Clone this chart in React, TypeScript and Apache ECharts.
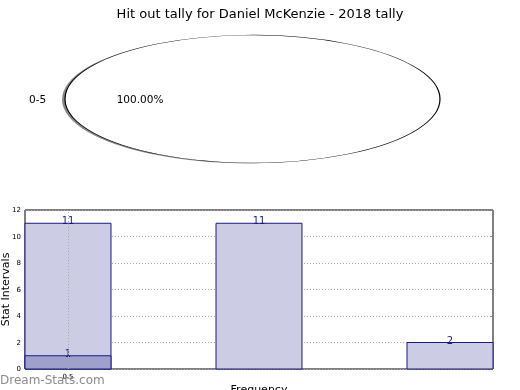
import React, { useEffect, useRef } from "react";
import * as echarts from "echarts";

const chartTitle = "Hit out tally for Daniel McKenzie - 2018 tally";
const pieLabels = ["0-5"];
const pieValues = [14];
const binStarts = [0, 2.221, 4.442];
const binEnds = [1, 3.221, 5.442];
const tallyCounts = [11, 11, 2];
const overlayStarts = [0];
const overlayEnds = [1];
const overlayCounts = [1];
const xTickValues = [0.5];
const xAxisName = "Frequency";
const yAxisName = "Stat Intervals";
const watermark = "Dream-Stats.com";

const FONT = "DejaVu Sans";

export default function App() {
  const ref = useRef<HTMLDivElement>(null);
  useEffect(() => {
    if (!ref.current) return;
    const chart = echarts.init(ref.current, null, { renderer: "svg" });
    const total = pieValues.reduce((a, b) => a + b, 0);
    const cum: number[] = [];
    pieValues.reduce((acc, v, i) => {
      cum[i] = acc;
      return acc + v;
    }, 0);

    const pieRender = (params: any, api: any) => {
      const i = params.dataIndex;
      const cx = 252.5, cy = 99, rx = 187.5, ry = 64;
      const k = ry / rx;
      const f0 = cum[i] / total;
      const f1 = (cum[i] + pieValues[i]) / total;
      const a0 = -f0 * Math.PI * 2;
      const a1 = -f1 * Math.PI * 2;
      const mid = (f0 + f1) * Math.PI;
      const pct = ((pieValues[i] / total) * 100).toFixed(2) + "%";
      const lx = cx + 1.1 * rx * Math.cos(mid);
      const ly = cy - 1.1 * ry * Math.sin(mid);
      const px = cx + 0.6 * rx * Math.cos(mid);
      const py = cy - 0.6 * ry * Math.sin(mid);
      return {
        type: "group",
        children: [
          {
            type: "sector",
            shape: { cx: cx - 3, cy: cy + 1.5, r: rx, r0: 0, startAngle: a0, endAngle: a1, clockwise: false },
            scaleY: k,
            originX: cx,
            originY: cy,
            style: { fill: "#7a7a7a", opacity: 0.9 },
          },
          {
            type: "sector",
            shape: { cx, cy, r: rx, r0: 0, startAngle: a0, endAngle: a1, clockwise: false },
            scaleY: k,
            originX: cx,
            originY: cy,
            style: { fill: "#ffffff", stroke: "#000", lineWidth: 1.2, strokeNoScale: true },
          },
          {
            type: "text",
            x: lx,
            y: ly,
            style: {
              text: pieLabels[i],
              fontFamily: FONT,
              fontSize: 10.5,
              fill: "#000",
              align: Math.cos(mid) < 0 ? "right" : "left",
              verticalAlign: "middle",
            },
          },
          {
            type: "text",
            x: px,
            y: py,
            style: {
              text: pct,
              fontFamily: FONT,
              fontSize: 10.5,
              fill: "#000",
              align: "center",
              verticalAlign: "middle",
            },
          },
        ],
      };
    };

    const barRender = (fill: string) => (params: any, api: any) => {
      const s = api.value(0), e = api.value(1), v = api.value(2);
      const p1 = api.coord([s, v]);
      const p2 = api.coord([e, 0]);
      return {
        type: "group",
        children: [
          {
            type: "rect",
            shape: { x: p1[0], y: p1[1], width: p2[0] - p1[0], height: p2[1] - p1[1] },
            style: { fill, stroke: "#1a1a80", lineWidth: 1 },
          },
          {
            type: "text",
            x: (p1[0] + p2[0]) / 2,
            y: p1[1] + 2.5,
            style: {
              text: String(v),
              fontFamily: FONT,
              fontSize: 10,
              fill: "#1a1a80",
              align: "center",
              verticalAlign: "bottom",
            },
          },
        ],
      };
    };

    chart.setOption({
      animation: false,
      textStyle: { fontFamily: FONT },
      title: {
        text: chartTitle,
        left: "center",
        top: 2,
        textStyle: { fontFamily: FONT, fontSize: 13, fontWeight: "normal", color: "#000" },
      },
      grid: {
        left: 25,
        top: 210,
        width: 468,
        height: 159,
        outerBoundsMode: "none",
        containLabel: false,
        show: true,
        borderColor: "#000",
        borderWidth: 1,
        backgroundColor: "transparent",
      },
      xAxis: {
        type: "value",
        min: 0,
        max: 5.442,
        name: xAxisName,
        nameLocation: "middle",
        nameGap: 15,
        nameTextStyle: { fontFamily: FONT, fontSize: 11, color: "#000" },
        axisLine: { show: false },
        axisTick: { show: true, inside: true, length: 3, lineStyle: { color: "#888" }, customValues: xTickValues },
        axisLabel: { fontSize: 7, color: "#000", margin: 4, customValues: xTickValues, fontFamily: FONT },
        splitLine: { show: false },
      },
      yAxis: [
        {
          type: "value",
          min: 0,
          max: 12,
          interval: 2,
          name: yAxisName,
          nameLocation: "middle",
          nameGap: 14,
          nameMoveOverlap: false,
          nameTextStyle: { fontFamily: FONT, fontSize: 11, color: "#000" },
          axisLine: { show: false },
          axisTick: { show: true, inside: true, length: 3, lineStyle: { color: "#888" } },
          axisLabel: { fontSize: 7, color: "#000", margin: 4, fontFamily: FONT },
          splitLine: { show: true, lineStyle: { type: [1, 2], color: "#aaa", width: 1 } },
        },
        {
          type: "value",
          min: 0,
          max: 12,
          interval: 2,
          position: "right",
          axisLine: { show: false },
          axisTick: { show: true, inside: true, length: 3, lineStyle: { color: "#888" } },
          axisLabel: { show: false },
          splitLine: { show: false },
        },
      ],
      series: [
        {
          type: "custom",
          coordinateSystem: "none",
          renderItem: pieRender,
          data: pieValues.map((v, i) => ({ name: pieLabels[i], value: v })),
          silent: true,
        },
        {
          type: "custom",
          coordinateSystem: "cartesian2d",
          renderItem: barRender("#ccccE4"),
          data: binStarts.map((s, i) => [s, binEnds[i], tallyCounts[i]]),
          markLine: {
            silent: true,
            symbol: "none",
            label: { show: false },
            lineStyle: { type: [1, 2], color: "#aaa", width: 1 },
            data: xTickValues.map((x) => ({ xAxis: x })),
          },
          z: 2,
        },
        {
          type: "custom",
          coordinateSystem: "cartesian2d",
          renderItem: barRender("#a0a0cc"),
          data: overlayStarts.map((s, i) => [s, overlayEnds[i], overlayCounts[i]]),
          z: 3,
        },
      ],
      graphic: [
        {
          type: "text",
          left: 0,
          top: 374,
          style: {
            text: watermark,
            fontFamily: FONT,
            fontSize: 12,
            fontWeight: "normal",
            fill: "#8c8c8c",
          },
          z: 10,
        },
      ],
    });
    return () => chart.dispose();
  }, []);
  return (
    <div style={{ position: "fixed", left: 0, top: 0 }}>
      <div ref={ref} style={{ width: 520, height: 390 }} />
    </div>
  );
}
